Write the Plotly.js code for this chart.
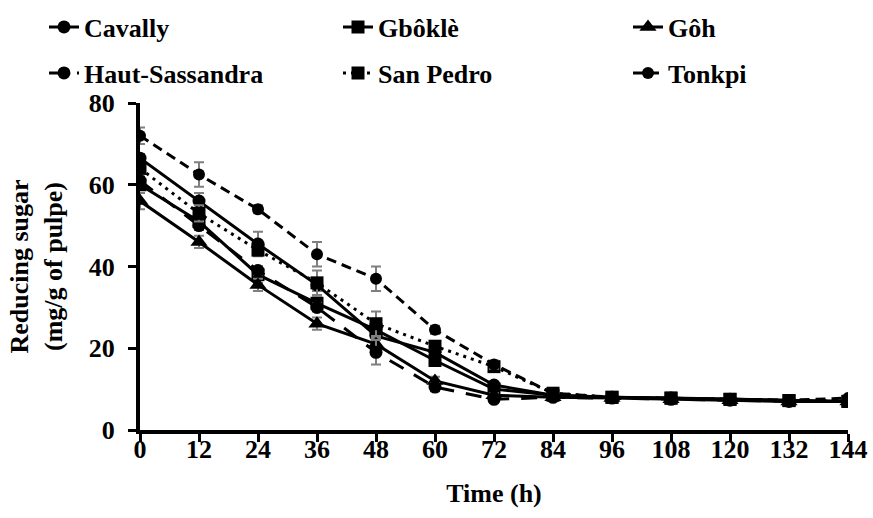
<!DOCTYPE html>
<html>
<head>
<meta charset="utf-8">
<script src="https://cdn.plot.ly/plotly-3.0.1.min.js"></script>
<style>html,body{margin:0;padding:0;background:#fff;}#chart{width:873px;height:518px;}</style>
</head>
<body>
<div id="chart"></div>
<script>
const time = [0, 12, 24, 36, 48, 60, 72, 84, 96, 108, 120, 132, 144];
const xTicks = [0, 12, 24, 36, 48, 60, 72, 84, 96, 108, 120, 132, 144];
const yTicks = [0, 20, 40, 60, 80];

const cavally = [66.5, 56, 45.5, 35.5, 23, 19, 11, 8.5, 8, 7.8, 7.5, 7.2, 7];
const cavallyErr = [1, 2, 3, 1.5, 1, 1, 0.5, 0.5, 0.3, 0.3, 0.3, 0.3, 0.3];
const gboklè = [60, 51, 38, 31, 24.5, 17, 10, 8.5, 8, 7.8, 7.5, 7.2, 7];
const gboklèErr = [1, 2, 2, 1.5, 2, 1, 0.5, 0.5, 0.3, 0.3, 0.3, 0.3, 0.3];
const goh = [56, 46, 35.5, 26, 21, 12, 8.5, 8, 7.8, 7.5, 7.3, 7, 7];
const gohErr = [2, 1.5, 1.5, 1.5, 1, 1, 0.5, 0.5, 0.3, 0.3, 0.3, 0.3, 0.3];
const hautSassandra = [61, 50, 39, 30, 19, 10.5, 7.5, 8, 7.8, 7.5, 7.3, 7, 7];
const hautSassandraErr = [1, 1, 1, 1, 3, 1, 0.5, 0.5, 0.3, 0.3, 0.3, 0.3, 0.3];
const sanPedro = [64, 53, 44, 36, 26, 20.5, 15.5, 9, 8, 7.8, 7.5, 7.2, 7];
const sanPedroErr = [1, 2, 1, 3, 3, 1, 1, 0.5, 0.3, 0.3, 0.3, 0.3, 0.3];
const tonkpi = [72, 62.5, 54, 43, 37, 24.5, 16, 9, 8, 7.8, 7.5, 7.3, 7.8];
const tonkpiErr = [2, 3, 1, 3, 3, 1, 1, 0.5, 0.3, 0.3, 0.3, 0.3, 0.3];

const FONT = 'Liberation Serif, Times New Roman, serif';
const FS = 26;

function series(name, y, err, symbol, dash, legend, size) {
  return {
    x: time, y: y, name: name, type: 'scatter', mode: 'lines+markers',
    legend: legend, showlegend: true,
    line: {color: '#000', width: 3, dash: dash},
    marker: {color: '#000', symbol: symbol, size: size},
    error_y: {type: 'data', array: err, visible: true, color: '#7f7f7f', thickness: 2, width: 5}
  };
}

const traces = [
  series('Cavally', cavally, cavallyErr, 'circle', 'solid', 'legend', 13),
  series('Gbôklè', gboklè, gboklèErr, 'square', 'solid', 'legend2', 13),
  series('Gôh', goh, gohErr, 'triangle-up', 'solid', 'legend3', 15),
  series('Haut-Sassandra', hautSassandra, hautSassandraErr, 'circle', '16px,12px', 'legend4', 13),
  series('San Pedro', sanPedro, sanPedroErr, 'square', '3px,5px', 'legend5', 13),
  series('Tonkpi', tonkpi, tonkpiErr, 'circle', '10px,6px', 'legend6', 12)
];

function leg(xpx, ypx) {
  return {
    xref: 'paper', yref: 'paper',
    x: (xpx - 140) / 708, y: (518 - 88 - ypx) / 327 , xanchor: 'left', yanchor: 'middle',
    font: {family: FONT, size: FS, color: '#000', weight: 'bold'},
    bgcolor: 'rgba(0,0,0,0)', borderwidth: 0
  };
}

const layout = {
  width: 873, height: 518,
  showlegend: true,
  margin: {l: 140, r: 25, t: 103, b: 88, autoexpand: false},
  paper_bgcolor: '#fff', plot_bgcolor: '#fff',
  font: {family: FONT, size: FS, color: '#000', weight: 'bold'},
  legend: leg(44, 27), legend2: leg(338, 27), legend3: leg(628, 27),
  legend4: leg(44, 73), legend5: leg(338, 73), legend6: leg(628, 73),
  xaxis: {
    range: [0, 144], tickvals: xTicks, ticktext: xTicks.map(String), tickangle: 0,
    showgrid: false, zeroline: false, showline: true, linecolor: '#000', linewidth: 4,
    ticks: 'outside', ticklen: 8, tickwidth: 3, tickcolor: '#000', ticklabelstandoff: -15,
    tickfont: {family: FONT, size: FS, color: '#000', weight: 'bold'},
    title: {text: 'Time (h)', font: {family: FONT, size: FS, color: '#000', weight: 'bold'}, standoff: 22}
  },
  yaxis: {
    range: [0, 80], tickvals: yTicks, ticktext: yTicks.map(String),
    showgrid: false, zeroline: false, showline: true, linecolor: '#000', linewidth: 4,
    ticks: 'outside', ticklen: 8, tickwidth: 3, tickcolor: '#000', ticklabelstandoff: 8,
    tickfont: {family: FONT, size: FS, color: '#000', weight: 'bold'},
    title: {text: 'Reducing sugar<br>(mg/g of pulpe)', font: {family: FONT, size: FS, color: '#000', weight: 'bold'}, standoff: 20}
  }
};

Plotly.newPlot('chart', traces, layout, {displayModeBar: false, staticPlot: true});
</script>
</body>
</html>
